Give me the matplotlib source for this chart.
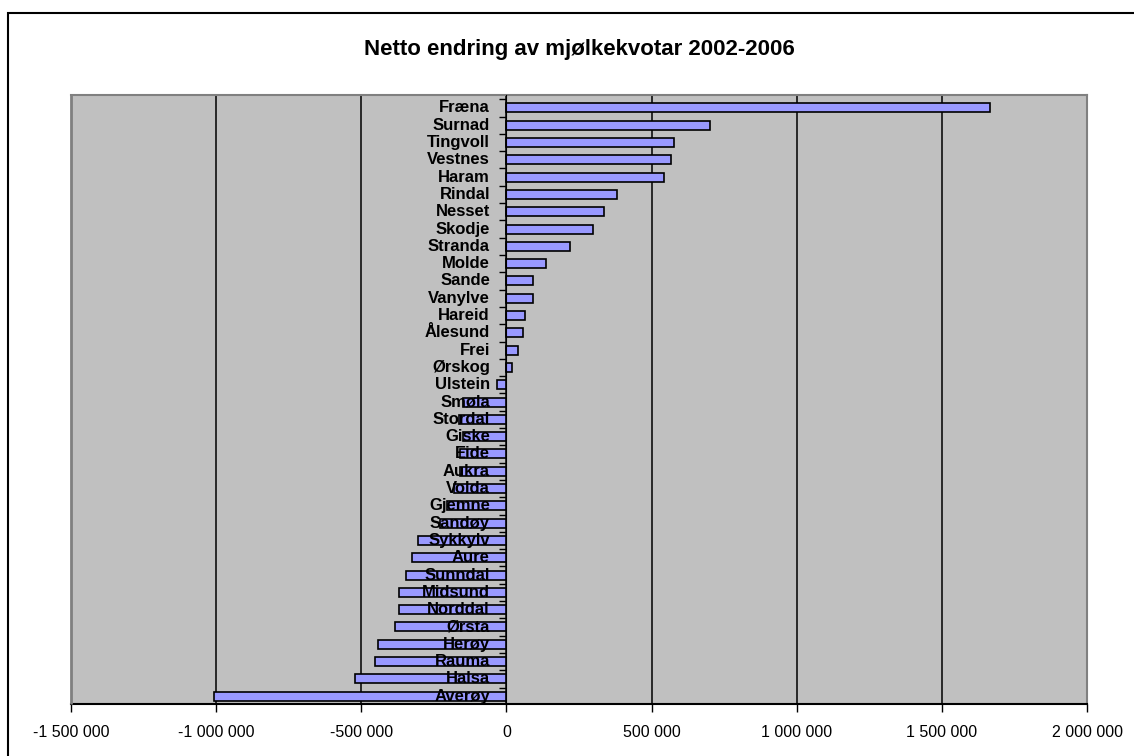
import numpy as np
import matplotlib.pyplot as plt
from matplotlib.patches import Rectangle
from matplotlib.ticker import FuncFormatter
from matplotlib.transforms import offset_copy

plt.rcParams['font.family'] = ['Liberation Sans', 'DejaVu Sans']

# kommunar, frå toppen og nedover
kommunar = ['Fræna', 'Surnad', 'Tingvoll', 'Vestnes', 'Haram', 'Rindal', 'Nesset',
            'Skodje', 'Stranda', 'Molde', 'Sande', 'Vanylve', 'Hareid', 'Ålesund',
            'Frei', 'Ørskog', 'Ulstein', 'Smøla', 'Stordal', 'Giske', 'Eide', 'Aukra',
            'Volda', 'Gjemne', 'Sandøy', 'Sykkylv', 'Aure', 'Sunndal', 'Midsund',
            'Norddal', 'Ørsta', 'Herøy', 'Rauma', 'Halsa', 'Averøy']
endring = [1667000, 701000, 578000, 568000, 543000, 382000, 337000,
           298000, 220000, 135000, 90000, 91000, 63000, 57000,
           40000, 18000, -33000, -150000, -165000, -150000, -160000, -160000,
           -180000, -205000, -230000, -306000, -324000, -347000, -370000,
           -370000, -384000, -442000, -453000, -520000, -1009000]
xticks = [-1500000, -1000000, -500000, 0, 500000, 1000000, 1500000, 2000000]

fig = plt.figure(figsize=(11.34, 7.56), dpi=100)
ax = fig.add_axes([0.0626, 0.0688, 0.896, 0.8056])

y = np.arange(len(kommunar))
ax.barh(y, endring, height=0.52, color='#9999FF', edgecolor='black', linewidth=1.2, zorder=3)

ax.set_facecolor('#C0C0C0')
ax.set_xlim(-1500000, 2000000)
ax.set_ylim(len(kommunar) - 0.55, -0.75)

# vertikale rutenett
ax.set_xticks(xticks)
ax.xaxis.grid(True, color='black', linewidth=1.1, zorder=1)
ax.xaxis.set_major_formatter(FuncFormatter(lambda v, p: f'{int(v):,}'.replace(',', ' ')))
ax.tick_params(axis='x', direction='out', length=6, width=1, pad=9, labelsize=11.5)

# kategoriakse ved 0, merke mellom kategoriane
ax.spines['left'].set_position(('data', 0))
ax.spines['left'].set_zorder(4)
ax.set_yticks(np.arange(len(kommunar)) - 0.5)
ax.set_yticklabels([])
ax.tick_params(axis='y', which='major', direction='out', length=5, width=1)

# namna oppå stolpane, som i originalen
tr = offset_copy(ax.transData, fig=fig, x=-16.5, y=0, units='dots')
for i, namn in enumerate(kommunar):
    ax.text(0, i, namn, transform=tr, ha='right', va='center', fontsize=12,
            fontweight='bold', zorder=6)

ax.spines['top'].set_color('#808080')
ax.spines['right'].set_color('#808080')
ax.spines['top'].set_linewidth(1.5)
ax.spines['right'].set_linewidth(1.5)
ax.spines['bottom'].set_linewidth(1.5)
ax.add_patch(Rectangle((0, 0), 0, 1, transform=ax.transAxes, fill=False,
                       edgecolor='#808080', linewidth=2, clip_on=False, zorder=6))

fig.text(0.511, 0.935, 'Netto endring av mjølkekvotar 2002-2006', ha='center', va='center',
         fontsize=16, fontweight='bold')

# ramme rundt diagrammet
fig.patches.append(Rectangle((8 / 1134, -0.1), 1.2, 1.1 - 13 / 756, transform=fig.transFigure,
                             fill=False, edgecolor='black', linewidth=1.5))

fig.savefig('out.png', dpi=100)
